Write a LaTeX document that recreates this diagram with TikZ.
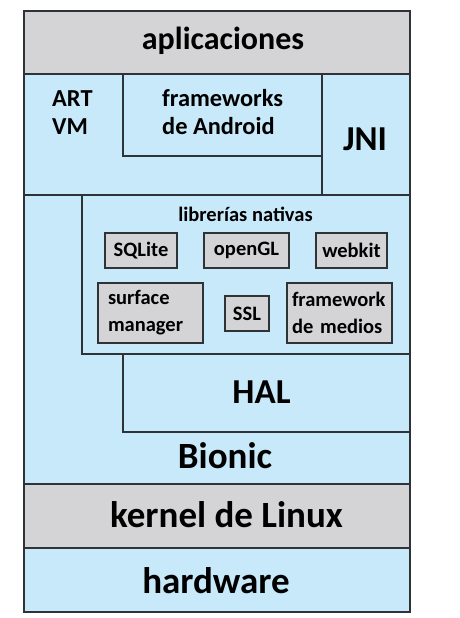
\documentclass[tikz,border=0pt]{standalone}
\usepackage{fontspec}
\setmainfont{Carlito}
\definecolor{azul}{HTML}{C8E9F9}
\definecolor{gris}{HTML}{D4D4D6}
\definecolor{borde}{HTML}{2E3338}
\begin{document}
\begin{tikzpicture}[x=1pt,y=-1pt,
    capa/.style={draw=borde,line width=1.3pt},
    caja/.style={draw=borde,line width=2pt,fill=gris,inner sep=0pt,
                 font=\fontsize{20.5}{27}\selectfont\bfseries}]
\tikzset{grande/.style={font=\fontsize{32}{38}\selectfont\bfseries,inner sep=0pt},
         base/.style={font=\fontsize{37}{42}\selectfont\bfseries,inner sep=0pt},
         enorme/.style={font=\fontsize{35}{40}\selectfont\bfseries,inner sep=0pt},
         medio/.style={font=\fontsize{24.4}{28}\selectfont\bfseries,inner sep=0pt,anchor=base west},
         chico/.style={font=\fontsize{20.5}{27}\selectfont\bfseries,inner sep=0pt}}
\useasboundingbox (0,0) rectangle (460,618);
% capas
\draw[capa,fill=gris] (24,11) rectangle (410,74);
\draw[capa,fill=azul] (24,74) rectangle (322,195);
\draw[capa,fill=azul] (322,74) rectangle (410,195);
\draw[capa,fill=azul] (123,74) rectangle (322,156);
\draw[capa,fill=azul] (24,195) rectangle (410,484);
\draw[capa,fill=azul] (82,195) rectangle (410,354);
\draw[capa,fill=azul] (123,354) rectangle (410,432);
\draw[capa,fill=gris] (24,484) rectangle (410,548);
\draw[capa,fill=azul] (24,548) rectangle (410,612);
% textos
\node[grande,anchor=base] (apps) at (223,50) {aplicaciones};
\node[medio] (art) at (52,106) {ART};
\node[medio] (vm) at (52,134) {VM};
\node[medio] (fw) at (162,106) {frameworks};
\node[medio] (android) at (162,134) {de Android};
\node[enorme,anchor=base] (jni) at (365,150) {JNI};
\node[chico,anchor=base] (libs) at (245.5,221) {librerías nativas};
\node[enorme,anchor=base] (hal) at (261.5,403) {HAL};
\node[base,anchor=base] (bionic) at (225,468) {Bionic};
\node[base,anchor=base] (kernel) at (226.5,527) {kernel de Linux};
\node[base,anchor=base] (hw) at (216,593) {hardware};
% librerias
\node[caja,minimum width=72pt,minimum height=35pt] (sqlite) at (141,250.5) {SQLite};
\node[caja,minimum width=85pt,minimum height=35pt] (opengl) at (246.5,250.5) {openGL};
\node[caja,minimum width=71pt,minimum height=35pt] (webkit) at (351.5,250.5) {webkit};
\node[caja,minimum width=105pt,minimum height=60pt,align=left,
      text width=85pt,inner xsep=10pt] (surface) at (150.5,313) {surface\\manager};
\node[caja,minimum width=44pt,minimum height=35pt] (ssl) at (247,313.5) {SSL};
\node[caja,minimum width=105pt,minimum height=60pt,align=left,
      text width=95pt,inner xsep=5pt] (medios) at (339.5,313) {framework\\de medios};
\end{tikzpicture}
\end{document}
